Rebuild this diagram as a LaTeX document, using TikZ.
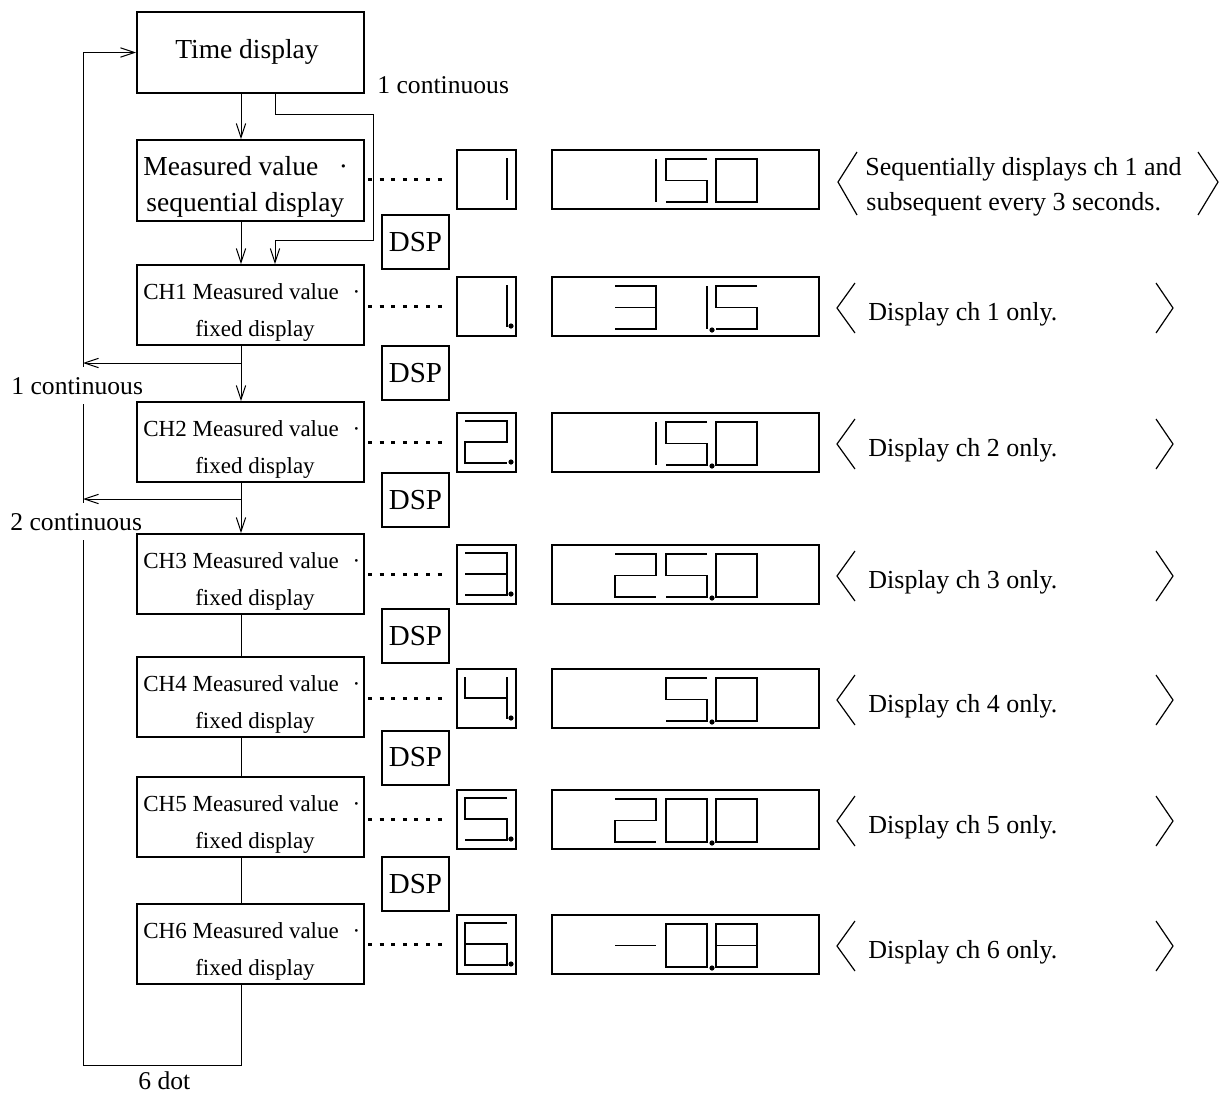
\documentclass[tikz,border=0pt]{standalone}
\usepackage{fontspec}
\setmainfont{Liberation Serif}
\usetikzlibrary{arrows.meta}
\pgfdeclarelayer{bg}
\pgfsetlayers{bg,main}
\newcommand{\mybdig}[3]{\pic[xscale=41,yscale=43] at ({#1},{#2+9}) {#3};}
\newcommand{\mysdig}[2]{\pic[xscale=42,yscale=42] at (465,{#1+8}) {#2};}
\newcommand{\mybdot}[1]{\fill (712,{#1+53}) circle[radius=1.3pt];}
\newcommand{\mysdot}[1]{\fill (511,{#1+49}) circle[radius=1.3pt];}
\newcommand{\mybrk}[1]{\draw[brk] (855,{#1-25}) -- (837,#1) -- (855,{#1+25});
  \draw[brk] (1156,{#1-25}) -- (1173,#1) -- (1156,{#1+25});}
\tikzset{
  seg/.style={line width=0.65pt},
  pics/dzero/.style={code={\draw[seg] (0,0) rectangle (1,1);}},
  pics/done/.style={code={\draw[seg] (1,0) -- (1,1);}},
  pics/dtwo/.style={code={\draw[seg] (0,0) -- (1,0) -- (1,0.5) -- (0,0.5) -- (0,1) -- (1,1);}},
  pics/dthree/.style={code={\draw[seg] (0,0) -- (1,0) -- (1,1) -- (0,1) (0,0.5) -- (1,0.5);}},
  pics/dfour/.style={code={\draw[seg] (0,0) -- (0,0.5) -- (1,0.5) (1,0) -- (1,1);}},
  pics/dfive/.style={code={\draw[seg] (1,0) -- (0,0) -- (0,0.5) -- (1,0.5) -- (1,1) -- (0,1);}},
  pics/dsix/.style={code={\draw[seg] (1,0) -- (0,0) -- (0,1) -- (1,1) -- (1,0.5) -- (0,0.5);}},
  pics/deight/.style={code={\draw[seg] (0,0) rectangle (1,1) (0,0.5) -- (1,0.5);}},
  pics/dminus/.style={code={\draw[seg] (0,0.5) -- (1,0.5);}},
}
\begin{document}
\begin{tikzpicture}[x=0.5pt,y=-0.5pt,
  flowbox/.style={draw, line width=1pt, minimum width=113.5pt, inner sep=0pt},
  sbox/.style={draw, line width=1pt, minimum width=29.5pt, minimum height=29.5pt, inner sep=0pt},
  bbox/.style={draw, line width=1pt, minimum width=133.5pt, minimum height=29.5pt, inner sep=0pt},
  dspbox/.style={draw, line width=1pt, minimum width=33.5pt, minimum height=27pt, inner sep=0pt, font=\fontsize{14.5pt}{16pt}\selectfont},
  conn/.style={line width=0.5pt},
  arr/.style={conn, -{Straight Barb[length=7pt,width=4.7pt]}},
  dotline/.style={line width=1.7pt, dash pattern=on 2pt off 3.8pt},
  brk/.style={line width=0.6pt},
  big/.style={font=\fontsize{13.75pt}{16pt}\selectfont, inner sep=0pt},
  chf/.style={font=\fontsize{11.5pt}{13pt}\selectfont, inner sep=0pt},
  lab/.style={font=\fontsize{12.8pt}{15pt}\selectfont},
  desc/.style={font=\fontsize{13pt}{15pt}\selectfont, inner sep=0pt},
]
\useasboundingbox (0,0) rectangle (1227,1093);

% ---- flow boxes ----
\node[flowbox, minimum height=40.5pt] (td) at (250.5,52.5) {};
\node[big, anchor=base] (tdt) at (247,58.5) {Time display};
\node[flowbox, minimum height=40.5pt] (mv) at (250.5,180.5) {};
\node[big, anchor=base west] (mvt1) at (143,175) {Measured value\hspace{0.75em}·};
\node[big, anchor=base west] (mvt2) at (146,211) {sequential display};

\foreach \n/\t in {1/265,2/402,3/534,4/657,5/777,6/904}{
  \node[flowbox, minimum height=40pt] (ch\n) at (250.5,{\t+40}) {};
  \node[chf, anchor=base west] (ch\n t1) at (143,{\t+34}) {CH\n\ Measured value\hspace{0.6em}·};
  \node[chf, anchor=base] (ch\n t2) at (255,{\t+71}) {fixed display};
}

% ---- DSP boxes ----
\node[dspbox] (dsp1) at (415.5,242) {DSP};
\node[dspbox] (dsp2) at (415.5,373) {DSP};
\node[dspbox] (dsp3) at (415.5,500) {DSP};
\node[dspbox] (dsp4) at (415.5,636) {DSP};
\node[dspbox] (dsp5) at (415.5,757.5) {DSP};
\node[dspbox] (dsp6) at (415.5,884) {DSP};

% ---- display boxes ----
\foreach \r/\t in {0/150,1/277,2/413,3/545,4/669,5/790,6/915}{
  \node[sbox] (sm\r) at (486.5,{\t+29.5}) {};
  \node[bbox] (bg\r) at (685.5,{\t+29.5}) {};
}

% ---- dotted links ----
\draw[dotline, shorten <=1.5pt, shorten >=3.5pt] (mv.east |- sm0.west) -- (sm0.west);
\foreach \r in {1,...,6}{
  \draw[dotline, shorten <=1.5pt, shorten >=3.5pt] (ch\r.east |- sm\r.west) -- (sm\r.west);
}

% ---- digits ----
\mysdig{150}{done}
\mybdig{615}{150}{done} \mybdig{666}{150}{dfive} \mybdig{716}{150}{dzero}
\mysdig{277}{done} \mysdot{277}
\mybdig{615}{277}{dthree} \mybdig{666}{277}{done} \mybdot{277} \mybdig{716}{277}{dfive}
\mysdig{413}{dtwo} \mysdot{413}
\mybdig{615}{413}{done} \mybdig{666}{413}{dfive} \mybdot{413} \mybdig{716}{413}{dzero}
\mysdig{545}{dthree} \mysdot{545}
\mybdig{615}{545}{dtwo} \mybdig{666}{545}{dfive} \mybdot{545} \mybdig{716}{545}{dzero}
\mysdig{669}{dfour} \mysdot{669}
\mybdig{666}{669}{dfive} \mybdot{669} \mybdig{716}{669}{dzero}
\mysdig{790}{dfive} \mysdot{790}
\mybdig{615}{790}{dtwo} \mybdig{666}{790}{dzero} \mybdot{790} \mybdig{716}{790}{dzero}
\mysdig{915}{dsix} \mysdot{915}
\mybdig{615}{915}{dminus} \mybdig{666}{915}{dzero} \mybdot{915} \mybdig{716}{915}{deight}

% ---- descriptions ----
\draw[brk] (857,152) -- (838,182) -- (857,215);
\draw[brk] (1198,152) -- (1218,182) -- (1198,215);
\node[desc, anchor=base west] (ds0a) at (865,175) {Sequentially displays ch 1 and};
\node[desc, anchor=base west] (ds0b) at (866,210) {subsequent every 3 seconds.};
\foreach \n/\t in {1/277,2/413,3/545,4/669,5/790,6/915}{
  \mybrk{\t+31}
  \node[desc, anchor=base west] (ds\n) at (868,{\t+43}) {Display ch \n\ only.};
}

% ---- connectors ----
\coordinate (colA) at (241,0);
\coordinate (colB) at (275,0);
\coordinate (lx) at (83,0);
\coordinate (jr1) at (373,114);
\coordinate (jr2) at (373,240);
\coordinate (by) at (0,1065);
\coordinate (b1) at (241,363);
\coordinate (b2) at (241,499);

\draw[arr] (td.south -| colA) -- (mv.north -| colA);
\draw[arr] (td.south -| colB) |- (jr1) -- (jr2) -| (ch1.north -| colB);
\draw[arr] (mv.south -| colA) -- (ch1.north -| colA);
\draw[arr] (ch1.south -| colA) -- (ch2.north -| colA);
\draw[arr] (ch2.south -| colA) -- (ch3.north -| colA);
\draw[conn] (ch3.south -| colA) -- (ch4.north -| colA);
\draw[conn] (ch4.south -| colA) -- (ch5.north -| colA);
\draw[conn] (ch5.south -| colA) -- (ch6.north -| colA);

\begin{pgfonlayer}{bg}
\draw[arr] (ch6.south -| colA) -- (colA |- by) -| (lx |- td.west) -- (td.west);
\node[lab, anchor=base west, fill=white, inner xsep=0pt, inner ysep=5pt] (lc1) at (11,394) {1 continuous};
\node[lab, anchor=base west, fill=white, inner xsep=0pt, inner ysep=5pt] (lc2) at (10,530) {2 continuous};
\end{pgfonlayer}

\node[lab, anchor=base west, inner xsep=0pt] (tc) at (377,93) {1 continuous};
\node[lab, anchor=base west, inner sep=0pt] (sixdot) at (138,1089) {6 dot};

\draw[arr] (b1) -- (lx |- b1);
\draw[arr] (b2) -- (lx |- b2);
\end{tikzpicture}
\end{document}
